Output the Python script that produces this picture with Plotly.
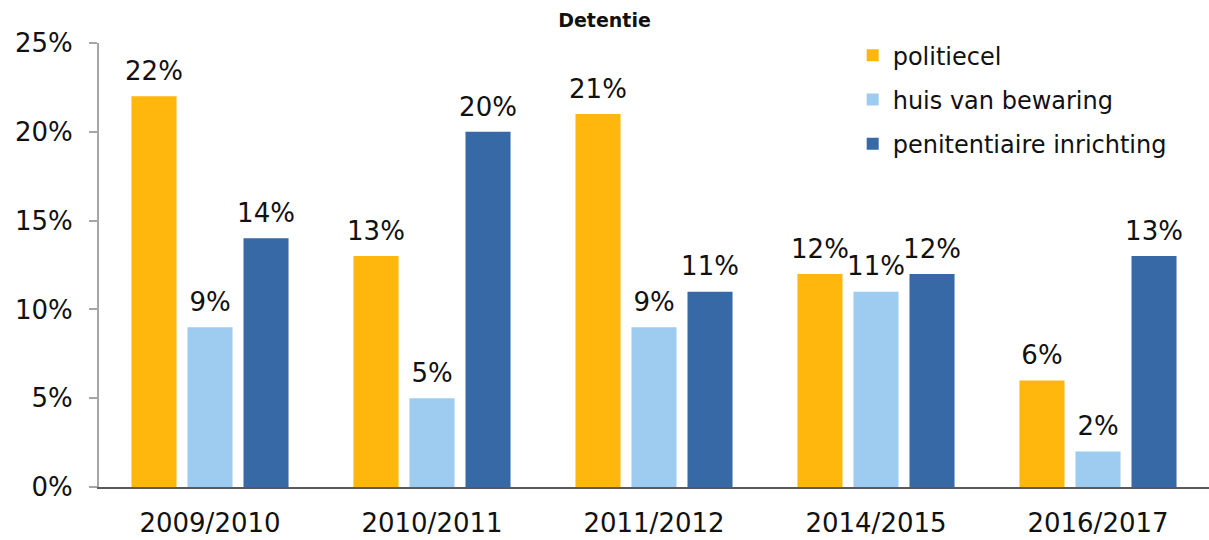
import plotly.graph_objects as go

categories = ["2009/2010", "2010/2011", "2011/2012", "2014/2015", "2016/2017"]
politiecel = [22, 13, 21, 12, 6]
huis_van_bewaring = [9, 5, 9, 11, 2]
penitentiaire = [14, 20, 11, 12, 13]

series = [
    ("politiecel", politiecel, "#FFB60D"),
    ("huis van bewaring", huis_van_bewaring, "#9DCCF0"),
    ("penitentiaire inrichting", penitentiaire, "#3669A6"),
]

FONT = "Verdana, DejaVu Sans, sans-serif"
BARGAP = 0.243

fig = go.Figure()
for name, vals, col in series:
    fig.add_trace(go.Bar(
        x=categories, y=vals, name=name, legendgroup=name,
        marker=dict(color=col, line=dict(width=0)),
    ))
for name, vals, col in series:
    fig.add_trace(go.Scatter(
        x=categories, y=vals, mode="markers+text", showlegend=False, legendgroup=name,
        marker=dict(size=14, opacity=0), hoverinfo="skip",
        text=[f"{v}%" for v in vals], textposition="top center",
        textfont=dict(family=FONT, size=26, color="#111111"), cliponaxis=False,
    ))

fig.update_layout(
    width=1209, height=540,
    margin=dict(l=99, r=0, t=43, b=53, autoexpand=False),
    paper_bgcolor="white", plot_bgcolor="white",
    barmode="group", bargap=BARGAP, bargroupgap=0.196,
    scattermode="group", scattergap=BARGAP,
    title=dict(text="<b>Detentie</b>", x=0.5, xanchor="center", y=0.963, yanchor="middle",
               font=dict(family=FONT, size=19, color="#111111")),
    font=dict(family=FONT, size=26, color="#111111"),
    showlegend=True,
    legend=dict(x=0.679, y=1.022, xanchor="left", yanchor="top", bgcolor="rgba(0,0,0,0)",
                font=dict(family=FONT, size=24, color="#111111"), tracegroupgap=10,
                itemwidth=30),
)
fig.update_yaxes(range=[0, 25], tickvals=[0, 5, 10, 15, 20, 25], ticktext=["0%", "5%", "10%", "15%", "20%", "25%"],
                 showgrid=False, showline=True, linecolor="#A6A6A6", linewidth=2,
                 ticks="outside", ticklen=8, tickcolor="#A6A6A6", tickwidth=2, ticklabelstandoff=11,
                 tickfont=dict(family=FONT, size=26, color="#111111"), zeroline=False)
fig.update_xaxes(showgrid=False, showline=True, linecolor="#5A5A5A", linewidth=2,
                 ticks="", ticklabelstandoff=12, tickfont=dict(family=FONT, size=26, color="#111111"))

fig.write_html("out.html", config={"displayModeBar": False},
               post_script="document.body.style.margin='0';document.body.style.overflow='hidden';")
